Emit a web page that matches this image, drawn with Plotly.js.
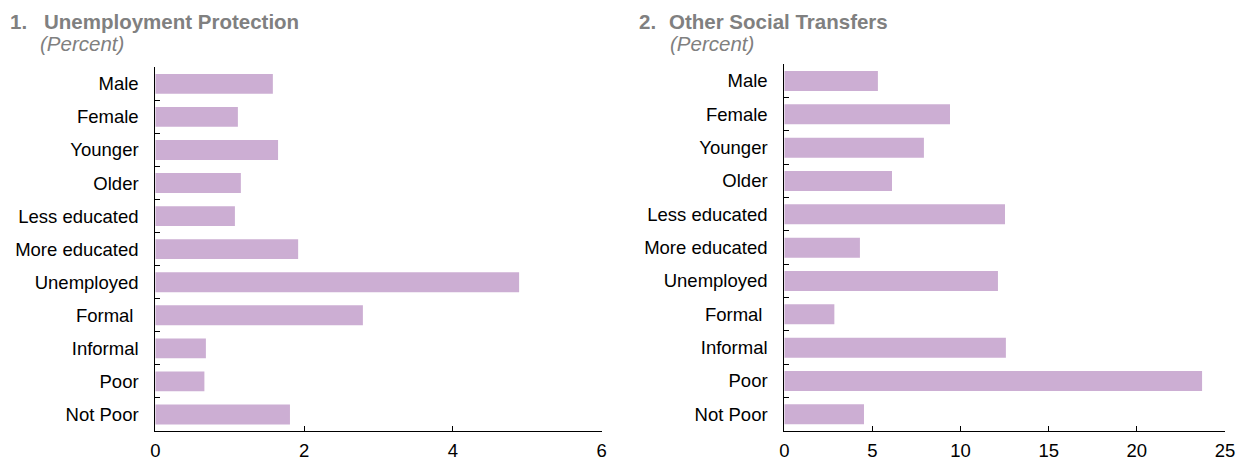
<!DOCTYPE html>
<html>
<head>
<meta charset="utf-8">
<script src="https://cdn.plot.ly/plotly-3.0.1.min.js"></script>
<style>
html,body{margin:0;padding:0;background:#fff;}
#chart{width:1238px;height:460px;}
</style>
</head>
<body>
<div id="chart"></div>
<script>
const categories = ['Male','Female','Younger','Older','Less educated','More educated','Unemployed','Formal\u00a0','Informal','Poor','Not Poor'];
const unemploymentProtection = [1.58,1.11,1.65,1.15,1.07,1.92,4.89,2.79,0.68,0.66,1.81];
const otherSocialTransfers = [5.31,9.40,7.92,6.11,12.52,4.29,12.12,2.84,12.57,23.70,4.52];
const xTicks1 = [0,2,4,6];
const xTicks2 = [0,5,10,15,20,25];
const panelNumbers = ['1.','2.'];
const panelTitles = ['Unemployment Protection','Other Social Transfers'];
const unitLabel = '(Percent)';

const W = 1238, H = 460;
const barColor = '#ccaed3';
const fontFamily = '"Liberation Sans", Arial, sans-serif';

const traces = [
  {type:'bar', orientation:'h', y:categories, x:unemploymentProtection, xaxis:'x', yaxis:'y',
   marker:{color:barColor}, hoverinfo:'skip'},
  {type:'bar', orientation:'h', y:categories, x:otherSocialTransfers, xaxis:'x2', yaxis:'y2',
   marker:{color:barColor}, hoverinfo:'skip'}
];

const xCommon = {
  showgrid:false, zeroline:false, showline:true, linecolor:'#000', linewidth:1,
  ticks:'inside', ticklen:5, tickcolor:'#000', tickwidth:1, tickmode:'array',
  tickfont:{size:18.5, color:'#000', family:fontFamily}, fixedrange:true,
  ticklabelstandoff:3
};
const yCommon = {
  type:'category', autorange:'reversed', showgrid:false, zeroline:false,
  showline:true, linecolor:'#000', linewidth:1,
  ticks:'inside', ticklen:5, tickcolor:'#000', tickwidth:1, tickson:'boundaries',
  tickfont:{size:18.5, color:'#000', family:fontFamily}, fixedrange:true,
  ticklabelstandoff:12
};

const gray = '#808080';
function ann(x, y, text, opts){
  return Object.assign({xref:'paper', yref:'paper', x:x/W, y:1-y/H, text:text,
    showarrow:false, xanchor:'left', yanchor:'top', align:'left',
    font:{family:fontFamily, size:20.5, color:gray}}, opts||{});
}

const layout = {
  width:W, height:H,
  margin:{l:0, r:0, t:0, b:0},
  paper_bgcolor:'#fff', plot_bgcolor:'#fff',
  showlegend:false, bargap:0.4,
  font:{family:fontFamily, size:18.5, color:'#000'},
  xaxis:Object.assign({}, xCommon, {domain:[155.3/W, 601.7/W], range:[0,6], tickvals:xTicks1, anchor:'y'}),
  yaxis:Object.assign({}, yCommon, {domain:[1-431/H, 1-67.3/H], anchor:'x'}),
  xaxis2:Object.assign({}, xCommon, {domain:[784.3/W, 1225/W], range:[0,25], tickvals:xTicks2, anchor:'y2'}),
  yaxis2:Object.assign({}, yCommon, {domain:[1-431/H, 1-64.3/H], anchor:'x2'}),
  annotations:[
    ann(8, 8, '<b>'+panelNumbers[0]+'</b>'),
    ann(42, 8, '<b>'+panelTitles[0]+'</b>'),
    ann(38, 30, '<i>'+unitLabel+'</i>'),
    ann(637, 8, '<b>'+panelNumbers[1]+'</b>'),
    ann(667, 8, '<b>'+panelTitles[1]+'</b>'),
    ann(668, 30, '<i>'+unitLabel+'</i>')
  ]
};

Plotly.newPlot('chart', traces, layout, {staticPlot:true, displayModeBar:false});
</script>
</body>
</html>
